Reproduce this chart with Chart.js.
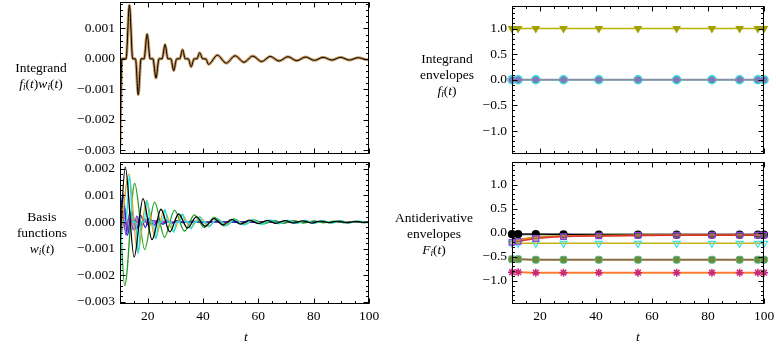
<!DOCTYPE html>
<html>
<head>
<meta charset="utf-8">
<script src="https://cdn.jsdelivr.net/npm/chart.js"></script>
<style>
  html, body { margin: 0; padding: 0; background: #fff; overflow: hidden; }
  body { width: 776px; height: 356px; position: relative; font-family: 'Liberation Serif', serif; font-size: 13.5px; color: #000; }
  canvas { position: absolute; }
  .lab { position: absolute; transform: translate(-50%, -50%); text-align: center; line-height: 16px; white-space: nowrap; }
  .lab sub { font-size: 70%; vertical-align: -0.25em; line-height: 0; }
  .tx { position: absolute; transform: translate(-50%, -50%); font-style: italic; }
</style>
</head>
<body>
<canvas id="c1" width="330" height="162" style="left:60px;top:0px"></canvas>
<canvas id="c2" width="330" height="200" style="left:60px;top:156px"></canvas>
<canvas id="c3" width="314" height="162" style="left:462px;top:0px"></canvas>
<canvas id="c4" width="314" height="200" style="left:462px;top:156px"></canvas>

<div class="lab" style="left:41px;top:76px">Integrand<br><i>f<sub>i</sub></i>(<i>t</i>)<i>w<sub>i</sub></i>(<i>t</i>)</div>
<div class="lab" style="left:42px;top:233px">Basis<br>functions<br><i>w<sub>i</sub></i>(<i>t</i>)</div>
<div class="lab" style="left:447px;top:75px">Integrand<br>envelopes<br><i>f<sub>i</sub></i>(<i>t</i>)</div>
<div class="lab" style="left:434px;top:234px">Antiderivative<br>envelopes<br><i>F<sub>i</sub></i>(<i>t</i>)</div>
<div class="tx" style="left:246px;top:337px">t</div>
<div class="tx" style="left:638px;top:337px">t</div>

<script>
// tick labels
const xTicks = [20, 40, 60, 80, 100];
const yTicksTL = [-0.003, -0.002, -0.001, 0, 0.001];
const yTicksBL = [-0.003, -0.002, -0.001, 0, 0.001, 0.002];
const yTicksR = [-1, -0.5, 0, 0.5, 1];

// integrand f_i(t) w_i(t)
const intT = [10, 10.7, 12.2, 13.4, 14.6, 15.6, 16.6, 17.6, 18.7, 19.8, 20.9, 21.9, 23.0, 24.1, 25.2, 26.3, 27.3, 28.4, 29.4, 30.5,
  31.6, 32.6, 33.6, 34.7, 35.7, 36.8, 37.8, 38.8, 39.9, 41.0, 42.0, 45.2, 48.4, 51.6, 54.8, 58.0, 61.2, 64.3, 67.5, 70.7,
  73.9, 77.1, 80.3, 83.4, 86.6, 89.7, 92.9, 96.1, 99.3, 100];
const intV = [-0.0029, 0, 0, 0.00177, 0, 0, -0.00118, 0, 0, 0.00081, 0, 0, -0.00063, 0, 0, 0.00047, 0, 0, -0.00039, 0,
  0, 0.0003, 0, 0, -0.00026, 0, 0, 0.0002, 0, 0, -0.00018, 0.00012, -0.00014, 0.0001, -0.00011, 0.00009, -0.00009, 0.00008, -0.00007, 0.00007,
  -0.00006, 0.00006, -0.00005, 0.00005, -0.00004, 0.00005, -0.00004, 0.00004, -0.00003, 0];

// basis functions w_i(t)
const blackT = [10, 11.9, 15.1, 18.3, 21.6, 24.8, 28.0, 31.2, 34.4, 37.6, 40.8, 44.0, 47.2, 50.4, 53.6, 56.8, 60.0, 63.2, 66.4, 69.6, 72.8, 76, 79.2, 82.4, 85.6, 88.8, 92, 95.2, 98.4, 100];
const blackV = [-0.0008, 0.00207, -0.00132, 0.00088, -0.00066, 0.00048, -0.00037, 0.0003, -0.00023, 0.00019, -0.00016, 0.00013, -0.00011, 0.0001, -0.00008, 0.00007, -0.00006, 0.00006, -0.00005, 0.00005, -0.00004, 0.00004, -0.00004, 0.00003, -0.00003, 0.00003, -0.00003, 0.00002, -0.00002, 0];
const orangeT = [10, 13.2, 16.4, 19.6, 22.8, 26.0, 29.2, 32.4, 35.6, 38.8, 42.0, 45.2, 48.4, 51.6, 54.8, 58.0, 61.2, 64.4, 67.6, 70.8, 74.0, 77.2, 80.4, 83.6, 86.8, 90.0, 93.2, 96.4, 99.6, 100];
const orangeV = [-0.0009, 0.0018, -0.00115, 0.0008, -0.0006, 0.00045, -0.00035, 0.00028, -0.00022, 0.00018, -0.00015, 0.00012, -0.0001, 0.00009, -0.00008, 0.00007, -0.00006, 0.00005, -0.00005, 0.00004, -0.00004, 0.00004, -0.00003, 0.00003, -0.00003, 0.00003, -0.00002, 0.00002, -0.00002, -0.00001];
const greenT = [10, 11.7, 15.3, 18.9, 22.5, 26.1, 29.7, 33.3, 36.9, 40.5, 44.1, 47.7, 51.3, 54.9, 58.5, 62.1, 65.7, 69.3, 72.9, 76.5, 80.1, 83.7, 87.3, 90.9, 94.5, 98.1, 100];
const greenV = [0.0003, -0.0024, 0.00145, -0.00104, 0.00075, -0.00058, 0.00045, -0.00034, 0.00027, -0.00021, 0.00017, -0.00015, 0.00012, -0.0001, 0.00008, -0.00007, 0.00006, -0.00005, 0.00005, -0.00004, 0.00004, -0.00003, 0.00003, -0.00003, 0.00002, -0.00002, 0];
const blueT = [10, 11.1, 12.7, 14.3, 15.9, 17.5, 19.1, 20.7, 22.3, 23.9, 25.5, 27.1, 28.7, 30.3, 33, 36, 40, 45, 50, 100];
const blueV = [0.0002, 0.00105, -0.0005, 0.0004, -0.0003, 0.00025, -0.0002, 0.00016, -0.00013, 0.00011, -0.00009, 0.00008, -0.00006, 0.00005, -0.00003, 0.00003, -0.00002, 0.00001, 0, 0];
const purpleT = [10, 10.9, 12.2, 13.5, 14.8, 16.1, 17.4, 18.7, 20, 22, 25, 30, 100];
const purpleV = [-0.0011, 0.0004, -0.0005, 0.00035, -0.0003, 0.00022, -0.00018, 0.00012, -0.0001, 0.00005, -0.00003, 0, 0];
const grayT = [10, 10.6, 11.8, 13, 14.2, 15.4, 16.6, 17.8, 19, 21, 24, 28, 100];
const grayV = [0.0009, -0.0004, 0.0005, -0.00035, 0.0003, -0.00022, 0.00018, -0.00012, 0.0001, -0.00006, 0.00003, 0, 0];
const magentaT = [10, 10.5, 11.5, 13, 15, 100];
const magentaV = [-0.0006, 0.0002, -0.0001, 0.00005, 0, 0];

// envelope nodes
const nodeT = [10, 12.2, 18.5, 28.4, 41, 55, 68.8, 81.4, 91.3, 97.8, 100];
const envOne = [1, 1, 1, 1, 1, 1, 1, 1, 1, 1, 1];
const envZero = [0, 0, 0, 0, 0, 0, 0, 0, 0, 0, 0];

// antiderivative envelopes
const FBlack = [-0.03, -0.03, -0.03, -0.035, -0.04, -0.04, -0.04, -0.04, -0.04, -0.04, -0.04];
const FGray = [-0.03, -0.03, -0.03, -0.03, -0.03, -0.03, -0.03, -0.03, -0.03, -0.03, -0.03];
const FRed = [-0.2, -0.18, -0.12, -0.08, -0.065, -0.055, -0.05, -0.05, -0.05, -0.05, -0.05];
const FOrange = [-0.16, -0.15, -0.1, -0.07, -0.06, -0.055, -0.05, -0.05, -0.05, -0.05, -0.05];
const FOlive = [-0.13, -0.13, -0.09, -0.065, -0.055, -0.05, -0.05, -0.05, -0.05, -0.05, -0.05];
const FYellow = [-0.22, -0.22, -0.22, -0.22, -0.22, -0.22, -0.22, -0.22, -0.22, -0.22, -0.22];
const FBrown = [-0.55, -0.55, -0.56, -0.56, -0.56, -0.56, -0.56, -0.56, -0.56, -0.56, -0.56];
const FDeep = [-0.82, -0.82, -0.83, -0.83, -0.83, -0.83, -0.83, -0.83, -0.83, -0.83, -0.83];

const tickFont = { family: 'Liberation Serif', size: 13.5 };

function pts(ts, vs) {
  return ts.map((t, i) => ({ x: t, y: vs[i] }));
}

// frame with inward ticks on all four sides, like Mathematica
const framePlugin = {
  id: 'frame',
  afterDraw(chart, args, o) {
    const { ctx, chartArea: a } = chart;
    const x = chart.scales.x, y = chart.scales.y;
    const L = Math.round(a.left) + 0.5, R = Math.round(a.right) - 0.5;
    const T = Math.round(a.top) + 0.5, B = Math.round(a.bottom) - 0.5;
    ctx.save();
    ctx.strokeStyle = '#000';
    ctx.lineWidth = 1;
    ctx.strokeRect(L, T, R - L, B - T);
    ctx.beginPath();
    const xt = (v, len) => {
      const p = Math.round(x.getPixelForValue(v)) + 0.5;
      ctx.moveTo(p, B); ctx.lineTo(p, B - len);
      ctx.moveTo(p, T); ctx.lineTo(p, T + len);
    };
    const yt = (v, len) => {
      const p = Math.round(y.getPixelForValue(v)) + 0.5;
      ctx.moveTo(L, p); ctx.lineTo(L + len, p);
      ctx.moveTo(R, p); ctx.lineTo(R - len, p);
    };
    xTicks.forEach(v => xt(v, 5));
    for (let k = Math.ceil(x.min / o.xStep); k * o.xStep <= x.max + 1e-9; k++) xt(k * o.xStep, 2.5);
    o.yMajor.forEach(v => yt(v, 5));
    for (let k = Math.ceil(y.min / o.yStep); k * o.yStep <= y.max + 1e-12; k++) yt(k * o.yStep, 2.5);
    ctx.stroke();
    ctx.restore();
  }
};

function xScale(show) {
  return {
    type: 'linear', min: 10, max: 100, display: show,
    grid: { display: false, drawTicks: false },
    border: { display: false },
    ticks: { font: tickFont, color: '#000', padding: 4, maxRotation: 0, autoSkip: false, callback: v => String(v) },
    afterBuildTicks: s => { s.ticks = xTicks.map(v => ({ value: v })); },
    afterFit: s => { if (show) s.height = 44; s.paddingLeft = 0; s.paddingRight = 0; }
  };
}

function yScale(min, max, ticks, w, fmt) {
  return {
    type: 'linear', min: min, max: max,
    grid: { display: false, drawTicks: false },
    border: { display: false },
    ticks: { font: tickFont, color: '#000', padding: 5, callback: fmt },
    afterBuildTicks: s => { s.ticks = ticks.map(v => ({ value: v })); },
    afterFit: s => { s.width = w; s.paddingTop = 0; s.paddingBottom = 0; }
  };
}

const fmt3 = v => (v < 0 ? '\u2212' : '') + Math.abs(v).toFixed(3);
const fmt1 = v => (v < 0 ? '\u2212' : '') + Math.abs(v).toFixed(1);

// note: chart.js paints the first dataset last, so top-most series come first
function line(data, color, width, extra) {
  return Object.assign({
    data: data, borderColor: color, backgroundColor: color, borderWidth: width,
    pointRadius: 0, cubicInterpolationMode: 'monotone', fill: false
  }, extra || {});
}

function baseOpts(pad, xs, ys, frame) {
  return {
    responsive: false, animation: false, devicePixelRatio: 1,
    layout: { padding: pad },
    plugins: { legend: { display: false }, tooltip: { enabled: false }, frame: frame },
    scales: { x: xs, y: ys }
  };
}

// top left: integrand
new Chart(document.getElementById('c1'), {
  type: 'line',
  data: { datasets: [
    line(pts(intT, intV), '#000', 1),
    line(pts(intT, intV), '#c99a62', 3)
  ] },
  options: baseOpts({ left: 0, right: 21, top: 2, bottom: 8 }, xScale(false),
    yScale(-0.00313, 0.00187, yTicksTL, 60, fmt3),
    { xStep: 5, yMajor: yTicksTL, yStep: 0.0002 }),
  plugins: [framePlugin]
});

// bottom left: basis functions
new Chart(document.getElementById('c2'), {
  type: 'line',
  data: { datasets: [
    line(pts(blackT, blackV), '#000', 1.3),
    line(pts(intT, intV), '#20e4e4', 1.3),
    line(pts(orangeT, orangeV), '#e0a020', 1.3),
    line(pts(greenT, greenV), '#22a022', 1.3),
    line(pts(blueT, blueV), '#2020e8', 1.3),
    line(pts(magentaT, magentaV), '#d040a0', 1.3),
    line(pts(purpleT, purpleV), '#7a3cc0', 1.3),
    line(pts(grayT, grayV), '#a8a8a8', 2.2)
  ] },
  options: baseOpts({ left: 0, right: 21, top: 6, bottom: 8 }, xScale(true),
    yScale(-0.00309, 0.00226, yTicksBL, 60, fmt3),
    { xStep: 5, yMajor: yTicksBL, yStep: 0.0002 }),
  plugins: [framePlugin]
});

// top right: integrand envelopes
new Chart(document.getElementById('c3'), {
  type: 'line',
  data: { datasets: [
    line(pts(nodeT, envOne), '#b4b400', 1.5, { clip: false, pointRadius: 3.5, pointStyle: 'triangle', rotation: 180, pointBackgroundColor: '#a0a000', pointBorderColor: '#a0a000' }),
    line(pts(nodeT, envZero), '#8890a8', 2, { clip: false, pointRadius: 2.5, pointStyle: 'circle', pointBackgroundColor: '#7a80b0', pointBorderColor: '#8a60c8', pointBorderWidth: 1 }),
    line(pts(nodeT, envZero), '#30dada', 1.5, { clip: false, pointRadius: 4, pointStyle: 'circle', pointBackgroundColor: 'rgba(120,140,170,0.8)', pointBorderColor: '#30dada', pointBorderWidth: 1.5 })
  ] },
  options: baseOpts({ left: 0, right: 12, top: 2, bottom: 8 }, xScale(false),
    yScale(-1.45, 1.45, yTicksR, 50, fmt1),
    { xStep: 5, yMajor: yTicksR, yStep: 0.1 }),
  plugins: [framePlugin]
});

// bottom right: antiderivative envelopes
new Chart(document.getElementById('c4'), {
  type: 'line',
  data: { datasets: [
    line(pts(nodeT, FRed), '#e03030', 1.5, { clip: false, pointRadius: 4, pointStyle: 'rect', pointBackgroundColor: 'rgba(150,150,90,0.6)', pointBorderColor: '#8a40e0', pointBorderWidth: 1.2 }),
    line(pts(nodeT, FOrange), '#e08a20', 1.5),
    line(pts(nodeT, FOlive), '#a8a020', 1.5),
    line(pts(nodeT, FBlack), '#000', 1.2, { clip: false, pointRadius: 3.5, pointStyle: 'circle', pointBackgroundColor: '#000', pointBorderColor: '#000' }),
    line(pts(nodeT, FGray), '#a0a0a0', 2.5),
    line(pts(nodeT, FYellow), '#c4b410', 1.5, { clip: false, pointRadius: 4, pointStyle: 'triangle', rotation: 180, pointBackgroundColor: 'rgba(255,255,255,0)', pointBorderColor: '#40e0e0', pointBorderWidth: 1.2 }),
    line(pts(nodeT, FBrown), '#8a6a40', 2, { clip: false, pointRadius: 4, pointStyle: 'rectRounded', pointBackgroundColor: '#6f8a30', pointBorderColor: '#50b890', pointBorderWidth: 1 }),
    line(pts(nodeT, FDeep), '#ff7d30', 2, { clip: false, pointRadius: 4, pointStyle: 'star', pointBorderColor: '#c82878', pointBorderWidth: 1.5 })
  ] },
  options: baseOpts({ left: 0, right: 12, top: 6, bottom: 8 }, xScale(true),
    yScale(-1.48, 1.47, yTicksR, 50, fmt1),
    { xStep: 5, yMajor: yTicksR, yStep: 0.1 }),
  plugins: [framePlugin]
});
</script>
</body>
</html>
